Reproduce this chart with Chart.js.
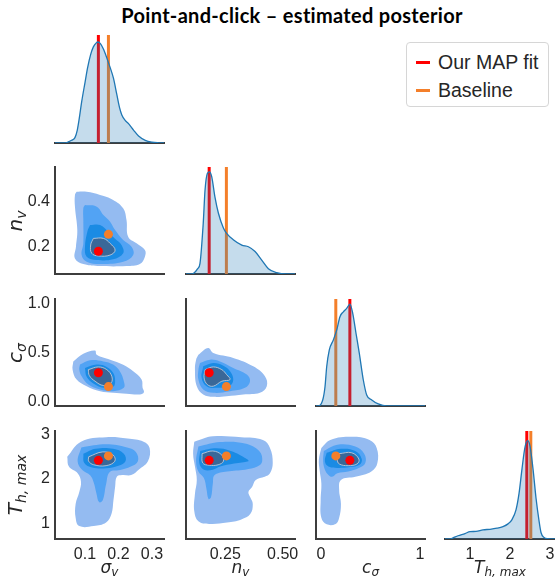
<!DOCTYPE html>
<html><head><meta charset="utf-8">
<script src="https://cdn.jsdelivr.net/npm/chart.js@4.4.1/dist/chart.umd.min.js"></script>
<style>
body{margin:0;background:#fff;}
#fig{position:relative;width:555px;height:579px;overflow:hidden;background:#fff;}
#fig canvas{position:absolute;}
.title{position:absolute;left:292px;top:3px;transform:translateX(-50%);white-space:nowrap;font-family:Lato,"Open Sans",sans-serif;font-weight:bold;font-size:20px;letter-spacing:0.3px;color:#000;}
.lab{position:absolute;white-space:nowrap;font-family:"DejaVu Sans",sans-serif;font-style:italic;color:#262626;transform:translate(-50%,-50%);}
.lab.x{font-size:17px;}
.lab.x sub{font-size:12px;vertical-align:-3px;}
.lab.rot{font-size:20px;transform:translate(-50%,-50%) rotate(-90deg);}
.lab.rot sub{font-size:14px;vertical-align:-4px;}
.legend{position:absolute;left:406px;top:42px;width:141px;height:63px;border:1px solid #d6d6d6;border-radius:4px;background:#fff;font-family:"Liberation Sans",Arial,sans-serif;font-size:19.5px;color:#262626;}
.legend .row{position:absolute;left:9px;height:22px;display:flex;align-items:center;}
.legend .sw{width:14px;height:3px;margin-right:8px;}
</style></head>
<body><div id="fig">
<div class="title">Point-and-click – estimated posterior</div>
</div>
<script>
// ---------------- data ----------------
const paramLabels = ['σ<sub>v</sub>', 'n<sub>v</sub>', 'c<sub>σ</sub>', 'T<sub>h, max</sub>'];
const legendLabels = ['Our MAP fit', 'Baseline'];
const mapFit   = [0.140, 0.180, 0.292, 2.42];
const baseline = [0.170, 0.255, 0.150, 2.52];

// axis ranges (column x ranges, row y ranges)
const xRangeSigma = [0.0104, 0.336];
const xRangeN     = [0.079, 0.554];
const xRangeC     = [-0.05, 1.051];
const xRangeT     = [0.375, 3.125];
const yRangeT     = [0.65, 3.08];

// tick values / labels
const xTicksSigma = [0.1, 0.2, 0.3];   const xTickLabelsSigma = ['0.1', '0.2', '0.3'];
const xTicksN     = [0.25, 0.50];      const xTickLabelsN     = ['0.25', '0.50'];
const xTicksC     = [0, 1];            const xTickLabelsC     = ['0', '1'];
const xTicksT     = [1, 2, 3];         const xTickLabelsT     = ['1', '2', '3'];
const yTicksN     = [0.2, 0.4];        const yTickLabelsN     = ['0.2', '0.4'];
const yTicksC     = [0.0, 0.5, 1.0];   const yTickLabelsC     = ['0.0', '0.5', '1.0'];
const yTicksT     = [1, 2, 3];         const yTickLabelsT     = ['1', '2', '3'];

// 1D marginal densities (relative height)
const kdeSigmaX = [0.0104,0.04,0.05,0.06,0.07,0.077,0.083,0.09,0.10,0.108,0.117,0.125,0.133,0.139,0.146,0.155,0.165,0.175,0.185,0.195,0.203,0.21,0.22,0.23,0.245,0.26,0.28,0.30,0.32,0.336];
const kdeSigmaY = [0,0,0.01,0.025,0.05,0.12,0.23,0.38,0.56,0.70,0.82,0.89,0.925,0.935,0.92,0.87,0.79,0.70,0.60,0.45,0.33,0.26,0.21,0.18,0.12,0.065,0.025,0.008,0.002,0];
const kdeNX = [0.079,0.10,0.111,0.13,0.14,0.154,0.162,0.172,0.181,0.191,0.205,0.22,0.242,0.256,0.285,0.322,0.351,0.38,0.409,0.438,0.474,0.518,0.554];
const kdeNY = [0,0,0.005,0.05,0.10,0.47,0.785,0.94,0.955,0.91,0.72,0.57,0.43,0.38,0.32,0.27,0.255,0.21,0.13,0.05,0.012,0,0];
const kdeCX = [-0.05,-0.027,0.018,0.041,0.058,0.084,0.125,0.159,0.192,0.226,0.26,0.293,0.321,0.354,0.388,0.428,0.462,0.513,0.579,0.664,1.051];
const kdeCY = [0,0,0.056,0.18,0.367,0.523,0.617,0.71,0.835,0.88,0.913,0.953,0.866,0.68,0.49,0.243,0.103,0.056,0.019,0,0];
const kdeTX = [0.375,0.5,0.575,0.7,0.875,1.0,1.15,1.325,1.5,1.675,1.825,1.95,2.05,2.15,2.225,2.3,2.375,2.44,2.5,2.575,2.65,2.725,2.775,2.85,2.95,3.125];
const kdeTY = [0,0,0.01,0.03,0.05,0.068,0.07,0.085,0.09,0.10,0.115,0.14,0.18,0.27,0.42,0.65,0.85,0.91,0.86,0.65,0.38,0.17,0.06,0.015,0.003,0];

// 2D density contours (outer -> inner level), pairs [x, y]
const contourSigmaN = [
 [[0.075,0.444],[0.105,0.444],[0.145,0.43],[0.184,0.408],[0.214,0.371],[0.224,0.319],[0.229,0.244],[0.254,0.215],[0.279,0.185],[0.279,0.156],[0.264,0.123],[0.224,0.114],[0.145,0.114],[0.095,0.123],[0.07,0.148],[0.073,0.2],[0.077,0.274],[0.07,0.378],[0.07,0.43]],
 [[0.100,0.385],[0.135,0.378],[0.155,0.341],[0.175,0.311],[0.19,0.274],[0.214,0.23],[0.239,0.2],[0.244,0.163],[0.214,0.133],[0.145,0.123],[0.105,0.133],[0.09,0.163],[0.095,0.215],[0.095,0.319],[0.095,0.371]],
 [[0.115,0.296],[0.145,0.296],[0.169,0.267],[0.189,0.237],[0.209,0.208],[0.214,0.171],[0.184,0.144],[0.135,0.141],[0.105,0.156],[0.1,0.2],[0.107,0.267]],
 [[0.125,0.237],[0.155,0.237],[0.175,0.215],[0.19,0.185],[0.175,0.163],[0.14,0.159],[0.12,0.171],[0.117,0.208]]
];
const contourSigmaC = [
 [[0.065,0.409],[0.095,0.488],[0.13,0.522],[0.135,0.478],[0.175,0.427],[0.214,0.375],[0.244,0.307],[0.269,0.222],[0.272,0.137],[0.276,0.092],[0.264,0.069],[0.224,0.076],[0.184,0.086],[0.145,0.102],[0.105,0.154],[0.075,0.222],[0.063,0.324]],
 [[0.085,0.376],[0.115,0.42],[0.155,0.409],[0.184,0.376],[0.204,0.307],[0.216,0.205],[0.216,0.137],[0.184,0.102],[0.145,0.12],[0.11,0.171],[0.09,0.256],[0.083,0.324]],
 [[0.1,0.342],[0.135,0.376],[0.165,0.352],[0.184,0.291],[0.19,0.205],[0.184,0.147],[0.155,0.137],[0.125,0.181],[0.105,0.25]],
 [[0.11,0.324],[0.14,0.352],[0.165,0.324],[0.18,0.256],[0.178,0.188],[0.155,0.161],[0.13,0.205],[0.113,0.263]]
];
const contourNC = [
 [[0.133,0.478],[0.176,0.547],[0.198,0.495],[0.285,0.444],[0.372,0.358],[0.423,0.256],[0.431,0.154],[0.401,0.086],[0.329,0.069],[0.256,0.051],[0.198,0.045],[0.154,0.069],[0.126,0.154],[0.118,0.324],[0.123,0.427]],
 [[0.14,0.393],[0.184,0.427],[0.227,0.409],[0.285,0.342],[0.344,0.273],[0.358,0.205],[0.336,0.137],[0.271,0.102],[0.198,0.086],[0.154,0.12],[0.133,0.222],[0.133,0.324]],
 [[0.154,0.358],[0.198,0.393],[0.242,0.365],[0.271,0.307],[0.285,0.222],[0.271,0.161],[0.213,0.137],[0.169,0.154],[0.147,0.239]],
 [[0.162,0.324],[0.198,0.352],[0.235,0.324],[0.256,0.273],[0.271,0.222],[0.235,0.205],[0.198,0.154],[0.172,0.171],[0.158,0.239]]
];
const contourSigmaT = [
 [[0.047,2.50],[0.088,2.84],[0.163,2.94],[0.227,2.91],[0.275,2.84],[0.293,2.70],[0.288,2.40],[0.262,2.22],[0.238,2.09],[0.211,2.09],[0.195,2.05],[0.19,1.82],[0.185,1.52],[0.179,1.21],[0.163,1.02],[0.126,0.94],[0.083,0.94],[0.072,1.13],[0.072,1.44],[0.083,1.71],[0.088,1.94],[0.078,2.13],[0.052,2.28]],
 [[0.089,2.71],[0.163,2.78],[0.226,2.71],[0.252,2.61],[0.258,2.40],[0.237,2.28],[0.205,2.2],[0.174,2.16],[0.163,1.88],[0.153,1.52],[0.142,1.48],[0.134,1.68],[0.126,1.92],[0.116,2.08],[0.092,2.2],[0.078,2.40]],
 [[0.095,2.57],[0.132,2.68],[0.184,2.68],[0.216,2.57],[0.221,2.4],[0.2,2.3],[0.163,2.24],[0.121,2.26],[0.098,2.36]],
 [[0.111,2.50],[0.153,2.61],[0.184,2.54],[0.189,2.4],[0.163,2.30],[0.126,2.32],[0.111,2.4]]
];
const contourNT = [
 [[0.115,2.84],[0.196,2.96],[0.32,2.94],[0.414,2.88],[0.445,2.70],[0.457,2.36],[0.445,2.13],[0.422,2.05],[0.383,1.98],[0.367,1.82],[0.351,1.71],[0.359,1.59],[0.37,1.44],[0.359,1.21],[0.32,1.09],[0.258,1.02],[0.18,0.99],[0.133,1.05],[0.115,1.28],[0.118,1.67],[0.126,1.98],[0.118,2.28],[0.11,2.57]],
 [[0.133,2.73],[0.227,2.83],[0.336,2.80],[0.398,2.63],[0.411,2.4],[0.39,2.28],[0.336,2.21],[0.258,2.17],[0.204,2.09],[0.196,1.9],[0.188,1.59],[0.177,1.55],[0.168,1.78],[0.157,2.02],[0.133,2.17],[0.123,2.4]],
 [[0.141,2.63],[0.211,2.69],[0.274,2.63],[0.344,2.45],[0.351,2.4],[0.289,2.35],[0.227,2.28],[0.196,2.21],[0.157,2.21],[0.137,2.36]],
 [[0.149,2.57],[0.196,2.63],[0.235,2.54],[0.242,2.4],[0.219,2.32],[0.18,2.31],[0.152,2.36]]
];
const contourCT = [
 [[0.004,2.70],[0.094,2.88],[0.311,2.95],[0.491,2.88],[0.563,2.70],[0.57,2.36],[0.509,2.17],[0.347,2.05],[0.202,1.98],[0.184,1.75],[0.202,1.44],[0.184,1.13],[0.148,0.99],[0.058,0.98],[0.004,1.13],[-0.003,1.52],[0.004,1.9],[-0.014,2.21],[-0.021,2.44]],
 [[0.029,2.63],[0.166,2.77],[0.347,2.73],[0.437,2.57],[0.448,2.36],[0.383,2.25],[0.275,2.17],[0.166,2.13],[0.112,2.05],[0.076,2.09],[0.04,2.21],[0.022,2.4]],
 [[0.058,2.59],[0.202,2.68],[0.347,2.63],[0.412,2.45],[0.39,2.32],[0.293,2.27],[0.166,2.25],[0.076,2.28],[0.04,2.4]],
 [[0.184,2.57],[0.311,2.59],[0.383,2.45],[0.365,2.34],[0.275,2.30],[0.184,2.34],[0.166,2.44]]
];

// ---------------- styling / layout ----------------
const levelColors = ['#94bbf1', '#52a3f4', '#1a8be4', '#3a6898'];
const coreEdge = 'rgba(190,200,215,0.9)';
const mapColor = '#ff0000', baseColor = '#f47f2a';
const kdeLine = '#1f77b4', kdeFill = 'rgba(31,119,180,0.26)';
const spine = '#3d3d3d', txt = '#262626';
const colLeft = [55, 186, 316, 445], colW = [109, 109, 109, 110];
const rowTop = [35, 167, 299, 431], rowH = [108, 107, 107, 108];
const ML = 50, MT = 6, MR = 8, MB = 32;

const colRange = [xRangeSigma, xRangeN, xRangeC, xRangeT];
const rowRange = [null, xRangeN, xRangeC, yRangeT];
const colTicks = [[xTicksSigma, xTickLabelsSigma], [xTicksN, xTickLabelsN], [xTicksC, xTickLabelsC], [xTicksT, xTickLabelsT]];
const rowTicks = [null, [yTicksN, yTickLabelsN], [yTicksC, yTickLabelsC], [yTicksT, yTickLabelsT]];
const kdes = [[kdeSigmaX, kdeSigmaY], [kdeNX, kdeNY], [kdeCX, kdeCY], [kdeTX, kdeTY]];
const contours = {'1,0': contourSigmaN, '2,0': contourSigmaC, '2,1': contourNC, '3,0': contourSigmaT, '3,1': contourNT, '3,2': contourCT};

const fig = document.getElementById('fig');
const tickFont = {family: '"Liberation Sans", Arial, sans-serif', size: 16};

function scaleOpts(range, ticksDef, showTicks, showBorder, size, isX) {
  return {
    type: 'linear', min: range[0], max: range[1],
    grid: {display: false, drawTicks: false},
    border: {display: showBorder, color: spine, width: 2},
    ticks: {
      display: showTicks, color: txt, font: tickFont, padding: isX ? 6 : 5,
      callback: (v) => { if (!ticksDef) return ''; const i = ticksDef[0].findIndex(t => Math.abs(t - v) < 1e-9); return i >= 0 ? ticksDef[1][i] : ''; }
    },
    afterBuildTicks: (s) => { if (ticksDef) s.ticks = ticksDef[0].map(v => ({value: v})); },
    afterFit: (s) => {
      if (isX) s.height = size; else s.width = size;
      s.paddingLeft = 0; s.paddingRight = 0; s.paddingTop = 0; s.paddingBottom = 0;
    }
  };
}

function panel(r, c) {
  const cv = document.createElement('canvas');
  const w = colW[c] + ML + MR, h = rowH[r] + MT + MB;
  cv.width = w; cv.height = h;
  cv.style.left = (colLeft[c] - ML) + 'px'; cv.style.top = (rowTop[r] - MT) + 'px';
  cv.style.width = w + 'px'; cv.style.height = h + 'px';
  fig.appendChild(cv);
  const datasets = [];
  let yScale;
  if (r === c) {
    const [kx, ky] = kdes[c];
    datasets.push({type: 'line', data: kx.map((x, k) => ({x, y: ky[k]})), borderColor: kdeLine, borderWidth: 1.3,
      backgroundColor: kdeFill, fill: 'origin', pointRadius: 0, cubicInterpolationMode: 'monotone', order: 1});
    datasets.push({type: 'line', data: [{x: mapFit[c], y: 0}, {x: mapFit[c], y: 1}], borderColor: mapColor, borderWidth: 3, pointRadius: 0, fill: false, order: 3});
    datasets.push({type: 'line', data: [{x: baseline[c], y: 0}, {x: baseline[c], y: 1}], borderColor: baseColor, borderWidth: 3, pointRadius: 0, fill: false, order: 2});
    yScale = scaleOpts([0, 1], null, false, false, ML, false);
  } else {
    const lv = contours[r + ',' + c];
    lv.forEach((poly, k) => {
      const pts = poly.concat([poly[0]]).map(p => ({x: p[0], y: p[1]}));
      datasets.push({type: 'line', data: pts, backgroundColor: levelColors[k], fill: 'shape',
        borderColor: k === 3 ? coreEdge : 'rgba(0,0,0,0)', borderWidth: k === 3 ? 1 : 0,
        pointRadius: 0, tension: 0.4, order: 20 - k});
    });
    datasets.push({type: 'scatter', data: [{x: baseline[c], y: baseline[r]}], backgroundColor: baseColor, borderWidth: 0, pointRadius: 4.5, order: 2});
    datasets.push({type: 'scatter', data: [{x: mapFit[c], y: mapFit[r]}], backgroundColor: mapColor, borderWidth: 0, pointRadius: 4.5, order: 1});
    yScale = scaleOpts(rowRange[r], rowTicks[r], c === 0, true, ML, false);
  }
  const xScale = scaleOpts(colRange[c], colTicks[c], r === 3, true, MB, true);
  new Chart(cv, {
    type: 'scatter',
    data: {datasets},
    options: {
      responsive: false, animation: false, devicePixelRatio: 1,
      layout: {padding: {left: 0, top: MT, right: MR, bottom: 0}},
      plugins: {legend: {display: false}, tooltip: {enabled: false}},
      scales: {x: xScale, y: yScale}
    }
  });
}

for (let r = 0; r < 4; r++) for (let c = 0; c <= r; c++) panel(r, c);

// axis labels
function addLabel(html, x, y, rot) {
  const d = document.createElement('div');
  d.className = 'lab ' + (rot ? 'rot' : 'x');
  d.innerHTML = html; d.style.left = x + 'px'; d.style.top = y + 'px';
  fig.appendChild(d);
}
for (let c = 0; c < 4; c++) addLabel(paramLabels[c], colLeft[c] + colW[c] / 2, 568, false);
for (let r = 1; r < 4; r++) addLabel(paramLabels[r], 16, rowTop[r] + rowH[r] / 2, true);

// legend
const lg = document.createElement('div');
lg.className = 'legend';
[mapColor, baseColor].forEach((col, i) => {
  const row = document.createElement('div');
  row.className = 'row'; row.style.top = (8 + i * 28) + 'px';
  row.innerHTML = '<span class="sw" style="background:' + col + '"></span><span>' + legendLabels[i] + '</span>';
  lg.appendChild(row);
});
fig.appendChild(lg);
</script>
</body></html>
